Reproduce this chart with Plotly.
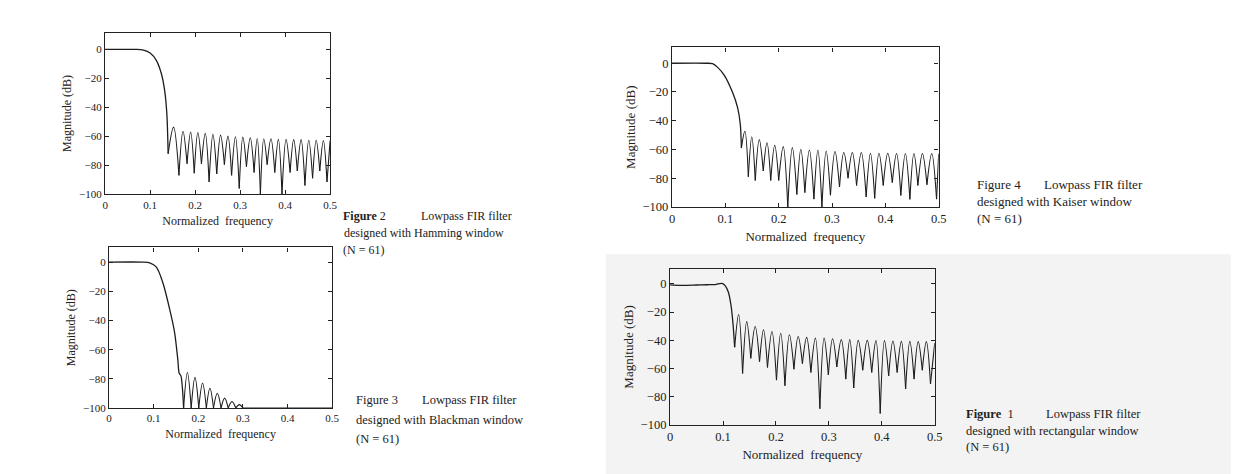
import plotly.graph_objects as go

# ---------------- data ----------------
# Figure 2 : Hamming window
ham_pass_f = [0.0, 0.07, 0.085, 0.100, 0.114, 0.125, 0.132, 0.137]
ham_pass_db = [0.0, 0.0, -0.5, -2.5, -7.7, -16.8, -28.0, -44.0]
ham_null_f = [0.140, 0.164, 0.182, 0.198, 0.214, 0.231, 0.248, 0.265, 0.281, 0.298, 0.314,
              0.331, 0.345, 0.360, 0.377, 0.393, 0.411, 0.427, 0.444, 0.461, 0.477, 0.493]
ham_null_db = [-72, -87, -79, -85.5, -79, -91.6, -86, -79.6, -87, -96, -81,
               -85, -100, -79.6, -85, -100, -85, -84, -94, -89, -84, -91.6]
ham_peak_db = [-53.7, -56.5, -57, -57.4, -58, -58.7, -59.2, -59.9, -60.3, -60.6, -61,
               -61.5, -61.7, -61.7, -62.1, -62.1, -62.3, -62.3, -62.7, -62.7, -63]
ham_end = (0.5, -63)

# Figure 3 : Blackman window
bla_pass_f = [0.0, 0.075, 0.091, 0.106, 0.121, 0.136, 0.147, 0.154, 0.157, 0.161]
bla_pass_db = [0.0, 0.0, -0.5, -3.4, -14.6, -32.6, -48.6, -66.7, -76.0, -78.0]
bla_null_f = [0.167, 0.184, 0.201, 0.218, 0.234, 0.251, 0.267, 0.284, 0.300]
bla_null_db = [-100, -100, -100, -100, -100, -100, -100, -100, -100]
bla_peak_db = [-75.7, -79, -82.9, -86.5, -89.9, -93.2, -95.5, -97.7]
bla_end = (0.5, -100)

# Figure 4 : Kaiser window
kai_pass_f = [0.0, 0.065, 0.076, 0.085, 0.098, 0.113, 0.123, 0.128]
kai_pass_db = [0.0, 0.0, -0.3, -2.7, -8.4, -19.9, -31.0, -42.7]
kai_null_f = [0.130, 0.143, 0.156, 0.171, 0.185, 0.200, 0.217, 0.234, 0.249, 0.266, 0.281, 0.297,
              0.314, 0.330, 0.346, 0.364, 0.380, 0.396, 0.413, 0.429, 0.446, 0.461, 0.478, 0.496]
kai_null_db = [-59, -79, -81.5, -75, -81.5, -81.5, -100, -91.3, -90, -94.5, -100, -91.8,
               -86, -80, -85, -93, -94, -85, -83, -92, -94.7, -85, -84.5, -94.5]
kai_peak_db = [-47.3, -51.1, -53, -55.3, -57, -58, -58.7, -59.8, -60.3, -60.3, -61, -61.4,
               -62.1, -62.1, -62.1, -62.6, -62.6, -62.6, -62.8, -62.8, -62.8, -62.8, -62.8]
kai_end = (0.5, -63)

# Figure 1 : rectangular window
rec_pass_f = [0.0, 0.02, 0.05, 0.07, 0.085, 0.098, 0.104, 0.110, 0.115, 0.119]
rec_pass_db = [-0.7, -1.0, -0.8, -0.6, -0.5, 0.4, -1.2, -5.8, -15.0, -29.0]
rec_null_f = [0.122, 0.137, 0.1525, 0.169, 0.184, 0.201, 0.217, 0.234, 0.250, 0.266, 0.283, 0.299,
              0.315, 0.332, 0.347, 0.364, 0.381, 0.397, 0.413, 0.429, 0.445, 0.461, 0.4765, 0.492]
rec_null_db = [-45, -63.6, -52.9, -55.2, -59.4, -68.3, -72.3, -60.6, -56.6, -62.9, -88.6, -64.6,
               -59, -67.6, -73.9, -61.3, -62.9, -92, -65.3, -62.9, -74.6, -67.6, -61.3, -71.1]
rec_peak_db = [-21.7, -26.8, -30.3, -32.6, -33.8, -35, -36.1, -37.3, -38, -38.5, -38.5,
               -38.9, -39.6, -39.6, -40.1, -40.1, -40.3, -40.3, -40.5, -40.8, -40.8, -41, -41]
rec_end = (0.5, -42)

x_tick_vals = [0, 0.1, 0.2, 0.3, 0.4, 0.5]
x_tick_text = ["0", "0.1", "0.2", "0.3", "0.4", "0.5"]
y_tick_vals = [-100, -80, -60, -40, -20, 0]
y_tick_text = ["\u2212100", "\u221280", "\u221260", "\u221240", "\u221220", "0"]

# ---------------- figure ----------------
LINE = "#1c1c1c"
SERIF = "Liberation Serif"

fig = go.Figure()


def add_panel(idx, pass_f, pass_db, null_f, null_db, peak_db, end):
    xa = "x" if idx == 1 else f"x{idx}"
    ya = "y" if idx == 1 else f"y{idx}"
    # passband / transition
    fig.add_trace(go.Scatter(x=pass_f + [null_f[0]], y=pass_db + [null_db[0]], mode="lines",
                             line=dict(color=LINE, width=1.3, shape="spline", smoothing=0.8),
                             xaxis=xa, yaxis=ya, showlegend=False, hoverinfo="skip"))
    # stopband lobes: each lobe is one arch between two nulls
    xs, ys = [], []
    for i, pk in enumerate(peak_db):
        xs += [null_f[i], (null_f[i] + null_f[i + 1]) / 2, null_f[i + 1], None]
        ys += [null_db[i], pk, null_db[i + 1], None]
    xs += [null_f[-1], end[0]]
    ys += [null_db[-1], end[1]]
    fig.add_trace(go.Scatter(x=xs, y=ys, mode="lines", connectgaps=False,
                             line=dict(color=LINE, width=1.1, shape="spline", smoothing=1.0),
                             xaxis=xa, yaxis=ya, showlegend=False, hoverinfo="skip"))


add_panel(1, ham_pass_f, ham_pass_db, ham_null_f, ham_null_db, ham_peak_db, ham_end)
add_panel(2, bla_pass_f, bla_pass_db, bla_null_f, bla_null_db, bla_peak_db, bla_end)
add_panel(3, kai_pass_f, kai_pass_db, kai_null_f, kai_null_db, kai_peak_db, kai_end)
add_panel(4, rec_pass_f, rec_pass_db, rec_null_f, rec_null_db, rec_peak_db, rec_end)

W, H = 1239, 474


def dom_x(a, b):
    return [a / W, b / W]


def dom_y(top, bottom):
    return [1 - bottom / H, 1 - top / H]


panels = {
    1: dict(xd=dom_x(95, 322), yd=dom_y(25, 189), ytop=11.6, fs=11, ts=12),
    2: dict(xd=dom_x(99, 324), yd=dom_y(243, 406), ytop=10.1, fs=11, ts=12),
    3: dict(xd=dom_x(667, 936), yd=dom_y(40, 202), ytop=11.0, fs=12.5, ts=13),
    4: dict(xd=dom_x(665, 932), yd=dom_y(265, 423), ytop=10.5, fs=12.5, ts=13),
}

layout = dict(width=W, height=H, margin=dict(l=0, r=0, t=0, b=0),
              paper_bgcolor="white", plot_bgcolor="rgba(0,0,0,0)",
              font=dict(family=SERIF, color="#222"))

for i, p in panels.items():
    xk = "xaxis" if i == 1 else f"xaxis{i}"
    yk = "yaxis" if i == 1 else f"yaxis{i}"
    ya = "y" if i == 1 else f"y{i}"
    xa = "x" if i == 1 else f"x{i}"
    common = dict(showline=True, linecolor="#222", linewidth=1.4, mirror="ticks",
                  ticks="inside", ticklen=4, tickwidth=1.1, tickcolor="#222",
                  showgrid=False, zeroline=False, fixedrange=True,
                  tickfont=dict(family=SERIF, size=p["fs"], color="#222"))
    layout[xk] = dict(common, domain=p["xd"], anchor=ya, range=[0, 0.5],
                      tickvals=x_tick_vals, ticktext=x_tick_text,
                      title=dict(text="Normalized  frequency", standoff=6,
                                 font=dict(family=SERIF, size=p["ts"], color="#222")))
    layout[yk] = dict(common, domain=p["yd"], anchor=xa, range=[-100, p["ytop"]],
                      tickvals=y_tick_vals, ticktext=y_tick_text,
                      title=dict(text="Magnitude (dB)", standoff=4,
                                 font=dict(family=SERIF, size=p["ts"], color="#222")))

fig.update_layout(**layout)

# light grey scan tone around the lower-right figure
fig.add_shape(type="rect", xref="paper", yref="paper", x0=600 / W, x1=1.0, y0=0, y1=1 - 250 / H,
              fillcolor="#f3f3f3", line=dict(width=0), layer="below")

# ---------------- captions ----------------
captions = [
    # (x, y, text, size)
    (333, 211, "<b>Figure</b> 2", 12), (412, 211, "Lowpass FIR filter", 12),
    (334, 228, "designed with Hamming window", 12), (333, 246, "(N = 61)", 12),
    (346, 398, "Figure 3", 12.5), (413, 398, "Lowpass FIR filter", 12.5),
    (346, 418, "designed with Blackman window", 12.5), (346, 437, "(N = 61)", 12.5),
    (973, 179, "Figure 4", 13), (1040, 179, "Lowpass FIR filter", 13),
    (973, 196, "designed with Kaiser window", 13), (973, 214, "(N = 61)", 13),
    (962, 412, "<b>Figure</b>  1", 12.5), (1042, 412, "Lowpass FIR filter", 12.5),
    (962, 429, "designed with rectangular window", 12.5), (962, 446, "(N = 61)", 12.5),
]
for cx, cy, txt, sz in captions:
    fig.add_annotation(x=cx / W, y=1 - cy / H, xref="paper", yref="paper", text=txt,
                       showarrow=False, xanchor="left", yanchor="middle",
                       font=dict(family=SERIF, size=sz, color="#222"))

fig.write_html("out.html")
